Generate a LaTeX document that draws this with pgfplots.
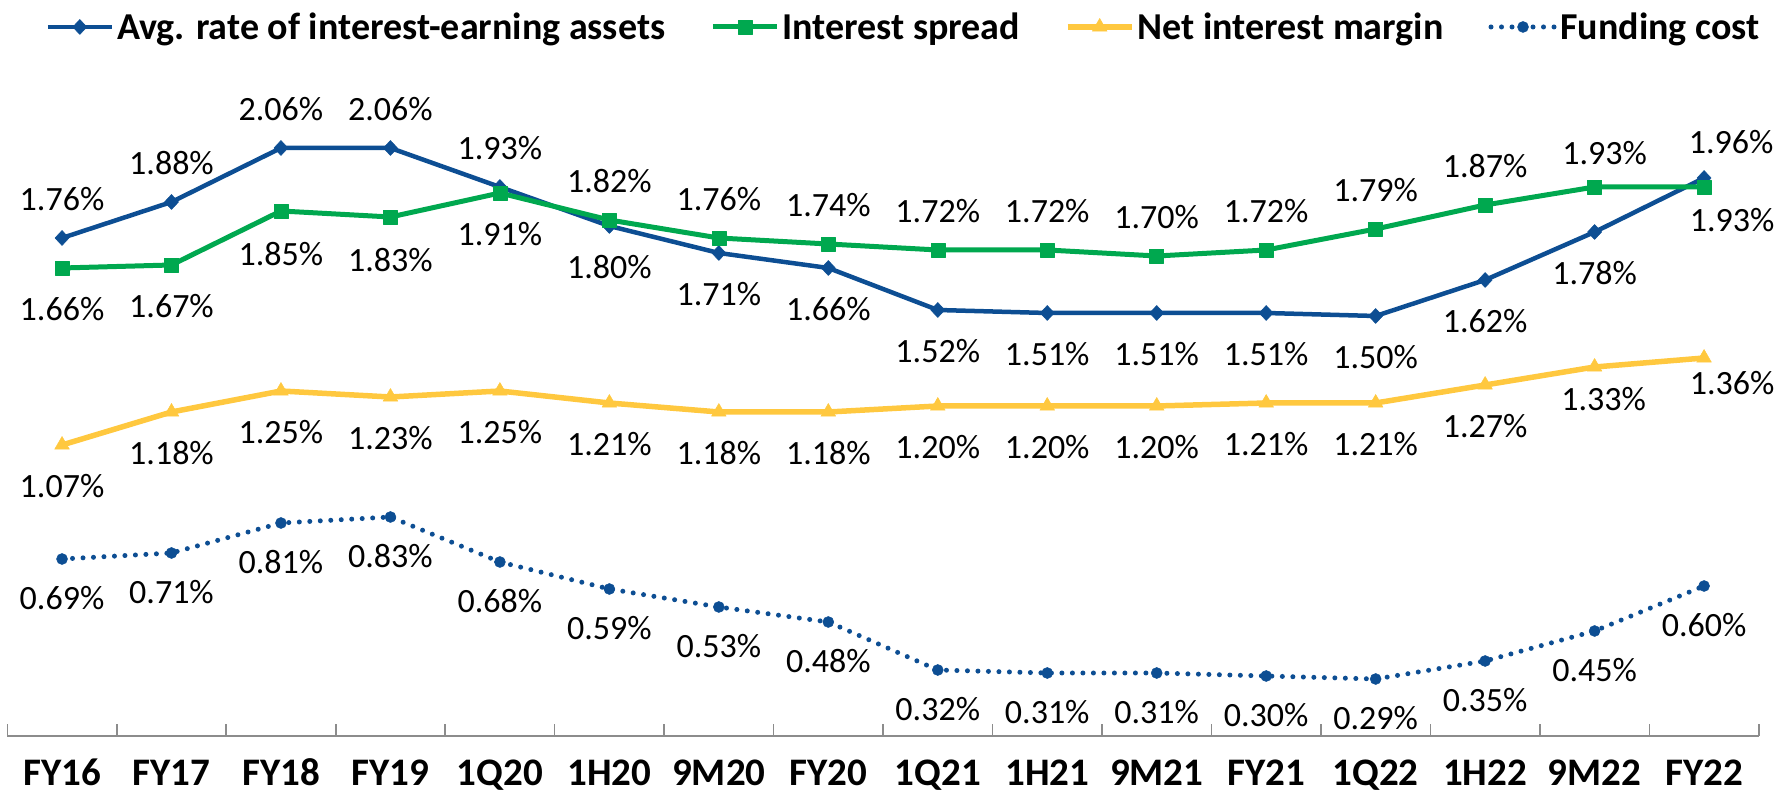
\documentclass[border=0pt]{standalone}
\usepackage{fontspec}
\setmainfont{Carlito}
\usepackage{pgfplots}
\pgfplotsset{compat=1.18}
\usepackage{pgfplotstable}
\definecolor{cblue}{HTML}{0D4E93}
\definecolor{cgreen}{HTML}{00A84F}
\definecolor{cyellow}{HTML}{FFC83F}
\definecolor{caxis}{HTML}{8C8C8C}

\pgfplotstableread{
x y dx dy
0 1.76 0 39
1 1.88 0 39
2 2.06 0 39
3 2.06 0 39
4 1.93 0 39
5 1.80 0 -41
6 1.71 0 -41
7 1.66 0 -41
8 1.52 0 -41
9 1.51 0 -41
10 1.51 0 -41
11 1.51 0 -41
12 1.50 0 -41
13 1.62 0 -41
14 1.78 0 -41
15 1.96 27 36
}\avgtab

\pgfplotstableread{
x y dx dy
0 1.66 0 -41
1 1.67 0 -41
2 1.85 0 -43
3 1.83 0 -43
4 1.91 0 -41
5 1.82 0 39
6 1.76 0 39
7 1.74 0 39
8 1.72 0 39
9 1.72 0 39
10 1.70 0 39
11 1.72 0 39
12 1.79 0 39
13 1.87 0 39
14 1.93 10 34
15 1.93 28 -33
}\spreadtab

\pgfplotstableread{
x y dx dy
0 1.07 0 -41
1 1.18 0 -41
2 1.25 0 -41
3 1.23 0 -41
4 1.25 0 -41
5 1.21 0 -41
6 1.18 0 -41
7 1.18 0 -41
8 1.20 0 -41
9 1.20 0 -41
10 1.20 0 -41
11 1.21 0 -41
12 1.21 0 -41
13 1.27 0 -41
14 1.33 9 -32
15 1.36 28 -25
}\nimtab

\pgfplotstableread{
x y dx dy
0 0.69 0 -39
1 0.71 0 -39
2 0.81 0 -39
3 0.83 0 -39
4 0.68 0 -39
5 0.59 0 -39
6 0.53 0 -39
7 0.48 0 -39
8 0.32 0 -39
9 0.31 0 -39
10 0.31 0 -39
11 0.30 0 -39
12 0.29 0 -39
13 0.35 0 -39
14 0.45 0 -39
15 0.60 0 -39
}\fundtab

\begin{document}
\begin{tikzpicture}
\begin{axis}[
  at={(0pt,0pt)}, anchor=south west,
  scale only axis, width=1751.5pt, height=675pt,
  xmin=-0.5, xmax=15.5, ymin=0.1, ymax=2.35,
  clip=false,
  hide y axis,
  axis x line*=bottom,
  x axis line style={draw=caxis, line width=2pt, -},
  xtick={0,...,15},
  xticklabels={FY16,FY17,FY18,FY19,1Q20,1H20,9M20,FY20,1Q21,1H21,9M21,FY21,1Q22,1H22,9M22,FY22},
  major tick length=0pt,
  minor xtick={-0.5,0.5,...,15.5},
  minor tick length=12pt,
  tick align=inside,
  minor tick style={draw=caxis, line width=1.6pt},
  xticklabel style={font=\bfseries\fontsize{39}{45}\selectfont, anchor=base, inner sep=0pt, yshift=-50pt},
  /pgf/number format/assume math mode=true,
  point meta=y,
  nodes near coords={\pgfmathprintnumber[fixed,fixed zerofill,precision=2]{\pgfplotspointmeta}\%},
  visualization depends on={\thisrow{dx} \as \labdx},
  visualization depends on={\thisrow{dy} \as \labdy},
  every node near coord/.append style={font=\fontsize{34}{40}\selectfont, text=black, anchor=center, xshift=\labdx, yshift=\labdy, inner sep=0pt},
  legend columns=4,
  legend style={
    at={(0.512,1.0504)}, anchor=center,
    draw=none, fill=none,
    font=\bfseries\fontsize{38}{44}\selectfont,
    inner sep=0pt,
    nodes={inner xsep=3pt, inner ysep=0pt},
    column sep=0pt,
  },
  legend image code/.code={\draw[mark repeat=2,mark phase=2,#1] plot coordinates {(0pt,0pt) (32pt,0pt) (64pt,0pt)};},
]
\addplot[color=cblue, line width=4.5pt, line join=round, mark=diamond*, mark size=7.5pt,
  mark options={solid, line width=0.5pt, fill=cblue, xscale=1.25}] table[x=x,y=y] {\avgtab};
\addlegendentry{Avg. rate of interest-earning assets\hspace*{42pt}}
\addplot[color=cgreen, line width=5pt, line join=round, mark=square*, mark size=7pt,
  mark options={solid, line width=0.5pt, fill=cgreen}] table[x=x,y=y] {\spreadtab};
\addlegendentry{Interest spread\hspace*{42pt}}
\addplot[color=cyellow, line width=5.5pt, line join=round, mark=triangle*, mark size=8.5pt,
  mark options={solid, line width=0.5pt, fill=cyellow}] table[x=x,y=y] {\nimtab};
\addlegendentry{Net interest margin\hspace*{42pt}}
\addplot[color=cblue, line width=5pt, line cap=round, dash pattern=on 0pt off 10.5pt, mark=*, mark size=5.5pt,
  mark options={solid, line width=0.5pt, fill=cblue}] table[x=x,y=y] {\fundtab};
\addlegendentry{Funding cost}
\end{axis}
\pgfresetboundingbox
\useasboundingbox (-7.3pt,-59pt) rectangle (1773.7pt,736pt);
\end{tikzpicture}
\end{document}
